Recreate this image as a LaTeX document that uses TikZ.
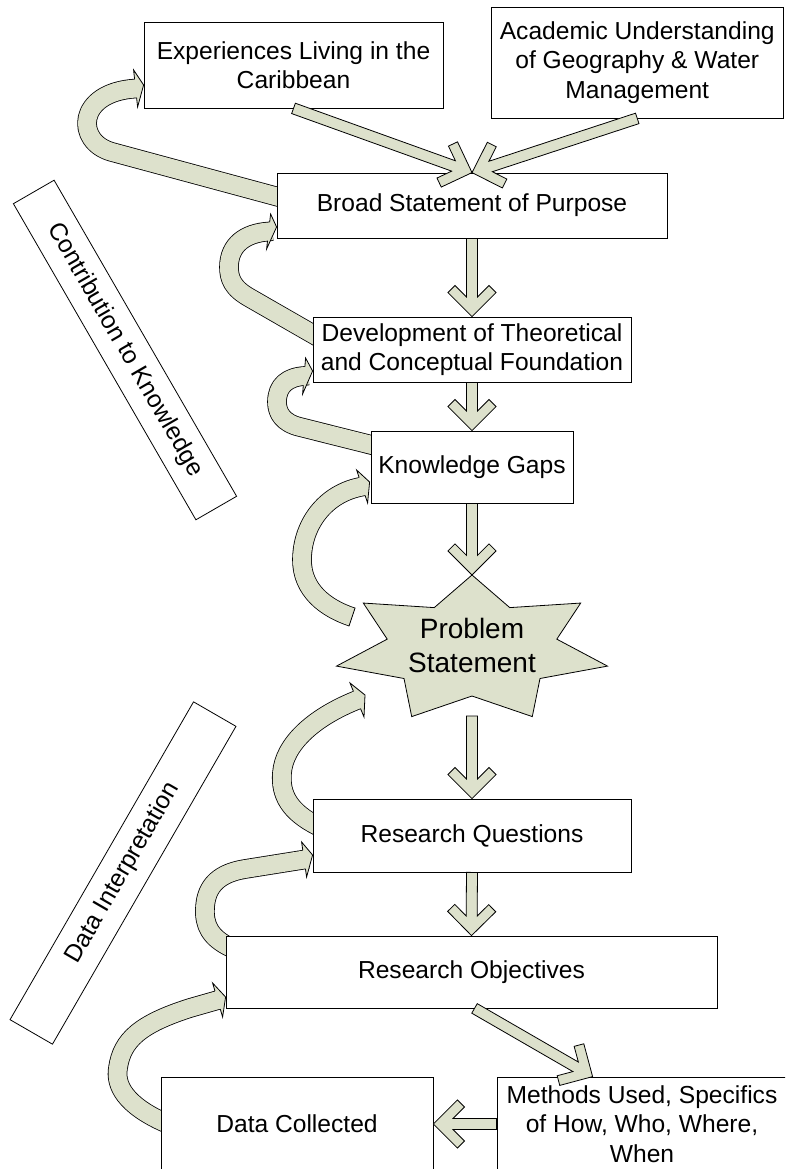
\documentclass[tikz,border=0pt]{standalone}
\usepackage{fontspec}
\setmainfont{Liberation Sans}
\usetikzlibrary{calc}
\pgfdeclarelayer{back}
\pgfsetlayers{back,main}
\definecolor{armfill}{RGB}{221,225,204}

% straight block arrows: shaft half width, arm length, arm thickness,
% arm angle, and the back offset where the arms meet the shaft
\newcommand\chvW{5.5pt}
\newcommand\chvA{34pt}
\newcommand\chvT{10pt}
\newcommand\chvQ{45}
\newcommand\chvJ{19.6pt}
\newcommand\chevarrow[2]{%
  \path[chev] let \p1=($(#2)-(#1)$), \n1={atan2(\y1,\x1)} in
    ($(#1)+({\n1+90}:\chvW)$)
    -- ($(#2)+({\n1+180}:\chvJ)+({\n1+90}:\chvW)$)
    -- ($(#2)+({\n1+180-\chvQ}:\chvA)+({\n1-90-\chvQ}:\chvT)$)
    -- ($(#2)+({\n1+180-\chvQ}:\chvA)$)
    -- (#2)
    -- ($(#2)+({\n1+180+\chvQ}:\chvA)$)
    -- ($(#2)+({\n1+180+\chvQ}:\chvA)+({\n1+90+\chvQ}:\chvT)$)
    -- ($(#2)+({\n1+180}:\chvJ)+({\n1-90}:\chvW)$)
    -- ($(#1)+({\n1-90}:\chvW)$) -- cycle;}

% head of a curved feedback band: tip, then the two wings relative to it
\newcommand\bandhead[3]{%
  \coordinate (hT) at #1;
  \coordinate (hA) at ($(hT)+(#2)$);
  \coordinate (hB) at ($(hT)+(#3)$);
  \coordinate (hM) at ($(hA)!0.5!(hB)$);
  \fill[armfill] (hA) -- (hT) -- (hB) -- cycle;
  \draw[armline] ($(hM)!9.4pt!(hA)$) -- (hA) -- (hT) -- (hB) -- ($(hM)!9.4pt!(hB)$);}

\begin{document}
\begin{tikzpicture}[x=1pt, y=-1pt,
  box/.style={draw=black, line width=0.8pt, fill=white, rectangle, inner sep=0pt,
    align=center, font=\fontsize{24.6}{29.5}\selectfont},
  tag/.style={draw=black, line width=0.8pt, rectangle, inner sep=0pt,
    font=\fontsize{24.6}{29.5}\selectfont},
  band/.style={draw=black, line width=0.8pt, double=armfill, double distance=18pt, line join=round},
  armline/.style={draw=black, line width=0.8pt, line join=miter, line cap=butt},
  chev/.style={fill=armfill, draw=black, line width=0.8pt, line join=miter},
  burst/.style={fill=armfill, draw=black, line width=0.8pt, line join=miter}]

\useasboundingbox (0,0) rectangle (785,1169);
\clip (0,0) rectangle (785,1169);

% ---- boxes of the main flow
\node[box, minimum width=299pt, minimum height=86pt] (exp) at (293.5,65) {Experiences Living in the\\Caribbean};
\node[box, minimum width=292.5pt, minimum height=111pt] (acad) at (637.25,62.5) {Academic Understanding\\of Geography \& Water\\Management};
\node[box, minimum width=390pt, minimum height=65pt] (broad) at (472,205.5) {Broad Statement of Purpose};
\node[box, minimum width=318pt, minimum height=65pt] (dev) at (472,349.5) {Development of Theoretical\\and Conceptual Foundation};
\node[box, minimum width=202pt, minimum height=72pt] (kg) at (472,467) {Knowledge Gaps};
\node[box, minimum width=318pt, minimum height=73pt] (rq) at (472,835.5) {Research Questions};
\node[box, minimum width=491pt, minimum height=72pt] (ro) at (471.5,972) {Research Objectives};
\node[box, minimum width=272pt, minimum height=94pt] (dc) at (297,1124) {Data Collected};
\node[box, minimum width=290pt, minimum height=94pt] (meth) at (642,1124) {Methods Used, Specifics\\of How, Who, Where,\\When};

% ---- slanted side labels
\node[tag, minimum width=365pt, minimum height=47pt, rotate=-60] (contrib) at (125,350) {Contribution to Knowledge};
\node[tag, minimum width=367pt, minimum height=49pt, rotate=60] (interp) at (123,873) {Data Interpretation};

% ---- problem statement burst
\draw[burst] (472,575) -- (509.75,607.6) -- (580.7,603.05) -- (556.8,639.15) -- (607.5,666.1)
  -- (540,678.5) -- (532.3,716.6) -- (472,696) -- (411.7,716.6) -- (404,678.5)
  -- (336.5,666.1) -- (387.2,639.15) -- (363.3,603.05) -- (434.25,607.6) -- cycle;
\node[font=\fontsize{28}{34}\selectfont, align=center, inner sep=0pt] (prob) at (472,645) {Problem\\Statement};
\coordinate (probtop) at (472,575);
\coordinate (probbot) at (472,716);

% ---- curved feedback bands, behind the boxes
\begin{pgfonlayer}{back}
  \fill[white] (0,0) rectangle (785,1169);
  % purpose -> experiences
  \draw[band] ($(broad.west)+(13,-5.5)$) -- (112,152) .. controls (75,142) and (76,92) .. (136,88.5) -- (139,88);
  \bandhead{($(exp.west)+(0,20)$)}{-10,-15}{-6,22}
  % foundation -> purpose
  \draw[band] ($(dev.west)+(7,-11.5)$) -- (250,298) .. controls (232,288) and (229,278) .. (229,267)
    .. controls (229,245) and (245,233) .. (269,231.5) -- (272,231);
  \bandhead{($(broad.west)+(0,21.5)$)}{-6,-13}{-10,22}
  % gaps -> foundation
  \draw[band] ($(kg.west)+(9,-20)$) -- (300,427) .. controls (283,423) and (277,413) .. (277,402)
    .. controls (277,385) and (288,377) .. (304.5,376) -- (308,375.5);
  \bandhead{($(dev.west)+(0,21.5)$)}{-7,-13}{-10,23}
  % problem statement -> gaps
  \coordinate (dtail) at ($(prob)+(-120,-28)$);
  \draw[band] (dtail) .. controls (325,608) and (302,590) .. (302,560)
    .. controls (302,525) and (325,493) .. (362.5,486.5) -- (366,485.5);
  \draw[armline] ($(dtail)!9.8pt!90:(325,608)$) -- ($(dtail)!9.8pt!-90:(325,608)$);
  \bandhead{($(kg.west)+(-1,15)$)}{-13,-12}{-2,21}
  % questions -> problem statement
  \draw[band] ($(rq.west)+(5,-9.5)$) .. controls (290,812) and (280,795) .. (282,773)
    .. controls (284,745) and (312,718) .. (357,700) -- (360,699);
  \bandhead{($(prob)+(-107,50)$)}{-15,-12}{-1,22}
  % objectives -> questions
  \draw[band] ($(ro.west)+(6,-24)$) .. controls (210,938) and (204,925) .. (205,908)
    .. controls (206,885) and (220,873) .. (245,869) -- (304.5,859.5) -- (308,859);
  \bandhead{($(rq.west)+(0,19.5)$)}{-11,-13}{-6,22}
  % data collected -> objectives
  \draw[band] ($(dc.west)+(5,-1)$) .. controls (125,1105) and (115,1085) .. (118,1068)
    .. controls (122,1040) and (140,1024) .. (190,1008) -- (218,1000) -- (221,999);
  \bandhead{($(ro.west)+(0,25)$)}{-13,-14}{-3,20}
\end{pgfonlayer}

% ---- straight block arrows
\chevarrow{exp.south}{broad.north}
\chevarrow{acad.south}{broad.north}
\chevarrow{broad.south}{dev.north}
\chevarrow{dev.south}{kg.north}
\chevarrow{kg.south}{probtop}
\chevarrow{probbot}{rq.north}
\chevarrow{rq.south}{ro.north}
\coordinate (ros) at ($(ro.south)+(3,0)$);
\coordinate (methtop) at ($(meth.north west)+(96,0)$);
\chevarrow{ros}{methtop}
\chevarrow{meth.west}{dc.east}

\end{tikzpicture}
\end{document}
